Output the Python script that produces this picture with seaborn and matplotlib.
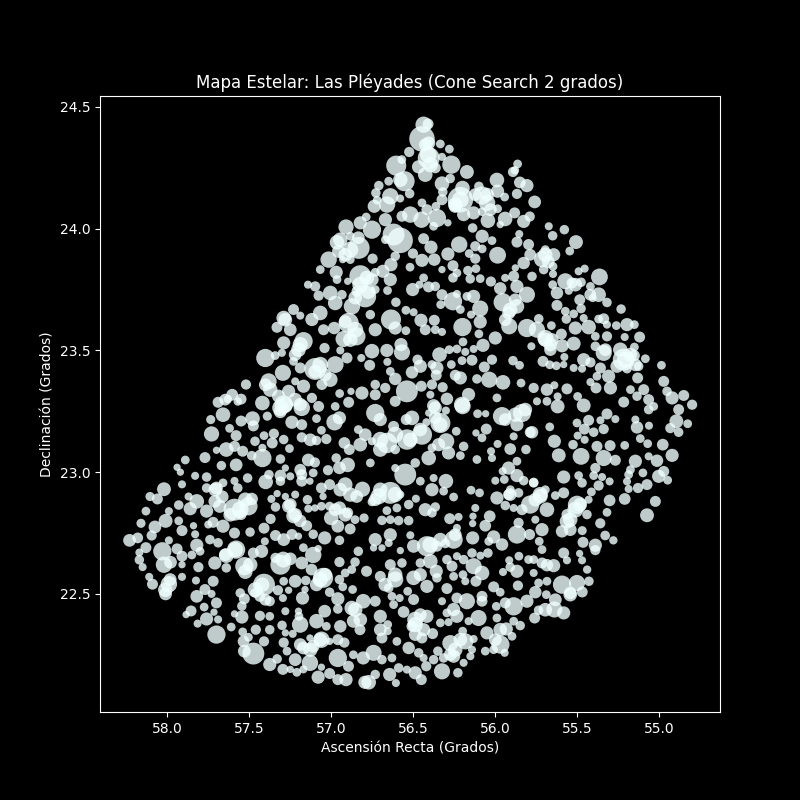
import pandas as pd
import matplotlib.pyplot as plt
import seaborn as sns

# (ra, dec, size), one list per part of the field
stars_west = [
(58.23,22.72,70),(58.18,22.73,50),(58.16,22.79,36),(58.13,22.84,33),(58.105,22.90,36),(58.06,22.89,52),(58.02,22.93,83),(57.99,22.84,28),
(58.01,22.80,83),(58.075,22.775,70),(58.095,22.74,45),(58.13,22.69,52),(58.17,22.67,28),(58.17,22.64,39),(58.15,22.61,28),(58.11,22.57,28),
(58.09,22.54,52),(57.99,22.54,116),(58.01,22.50,70),(58.03,22.675,144),(58.02,22.62,116),(57.98,22.63,70),(57.94,22.685,52),(57.91,22.655,52),
(57.91,22.62,23),(57.91,22.57,28),(57.99,22.72,28),(57.91,22.76,52),(57.93,22.80,33),(57.84,22.78,23),(57.83,22.745,28),(57.82,22.70,75),
(57.85,22.66,33),(57.80,22.675,33),(57.81,22.61,45),(57.825,22.555,28),(57.93,22.865,39),(57.87,22.90,28),(57.86,22.85,75),(57.82,22.88,92),
(57.76,22.84,75),(57.76,22.935,39),(57.91,22.95,28),(57.83,22.985,28),(57.76,22.98,39),(57.94,23.02,23),(57.92,23.0,23),(57.89,23.05,33),
(57.77,23.06,52),(57.73,23.157,100),(57.62,23.18,33),(57.58,23.15,52),(57.735,23.216,36),(57.66,23.236,92),(57.69,23.287,52),(57.55,23.21,52),
(57.48,23.22,92),(57.475,23.19,52),(57.42,23.284,92),(57.39,23.23,36),(57.31,23.264,116),(57.24,23.205,75),(57.18,23.195,52),(57.18,23.264,116),
(57.09,23.22,33),(57.64,23.093,92),(57.70,23.09,23),(57.67,23.027,39),(57.59,23.106,52),(57.54,23.086,52),(57.42,23.058,144),(57.58,23.03,70),
(57.51,22.976,39),(57.40,22.96,92),(57.38,22.99,39),(57.31,23.054,39),(57.36,23.12,52),(57.41,23.15,33),(57.35,23.158,45),(57.29,23.134,39),
(57.255,23.097,33),(57.465,23.127,39),(57.42,23.10,28),(57.485,23.068,39),(57.18,23.143,45),(57.09,23.13,39),(57.03,23.136,45),(57.14,23.05,70),
(57.10,23.04,45),(57.31,22.986,59),(57.31,22.963,39),(57.25,22.983,28),(57.28,23.017,23),(57.18,22.99,52),(57.18,22.963,52),(57.13,22.963,23),
(57.11,22.997,33),(57.02,23.008,45),(56.95,23.018,70),(56.90,23.03,92),(56.97,23.058,39),(56.835,23.175,33),(56.92,23.12,59),(56.89,23.093,52),
(56.98,23.205,116),(56.95,23.223,75),(57.06,23.172,33),(57.70,22.935,70),(57.66,22.956,33),(57.59,22.964,28),(57.57,22.935,39),(57.71,22.88,70),
(57.68,22.86,75),(57.59,22.846,207),(57.505,22.86,144),(57.485,22.89,67),(57.55,22.826,52),(57.72,22.794,52),(57.66,22.778,75),(57.59,22.75,52),
(57.495,22.754,39),(57.75,22.785,28),(57.74,22.723,39),(57.69,22.71,39),(57.58,22.682,144),(57.64,22.657,92),(57.71,22.627,75),(57.64,22.607,39),
(57.53,22.614,144),(57.475,22.668,52),(57.425,22.675,75),(57.405,22.716,28),(57.41,22.77,52),(57.37,22.808,45),(57.34,22.857,39),(57.365,22.89,28),
(57.28,22.90,23),(57.33,22.912,23),(57.26,22.86,75),(57.23,22.82,92),(57.19,22.80,70),(57.15,22.78,52),(57.145,22.887,39),(57.14,22.85,28),
(57.22,22.908,28),(57.34,22.74,52),(57.29,22.723,70),(57.24,22.744,52),(57.20,22.737,23),(57.11,22.745,39),(57.04,22.73,75),(56.95,22.72,39),
(57.0,22.812,92),(56.96,22.778,70),(56.885,22.767,52),(56.80,22.812,36),(56.95,22.853,75),(57.01,22.86,36),(57.06,22.86,33),(57.10,22.853,23),
(57.06,22.935,52),(57.01,22.949,52),(56.915,22.949,92),(56.845,22.90,70),(56.81,22.93,100),(57.05,22.90,23),(56.90,22.833,52),(56.855,22.805,33),
(57.31,22.62,174),(57.34,22.648,45),(57.25,22.644,70),(57.18,22.627,70),(57.12,22.60,59),(57.11,22.66,116),(57.17,22.69,33),(57.08,22.686,23),
(56.95,22.631,45),(56.835,22.675,39),(56.855,22.631,39),(56.875,22.60,33),(56.785,22.593,52),(56.915,22.586,33),(56.95,22.559,39),(57.05,22.566,174),
(57.09,22.538,75),(57.01,22.507,39),(56.96,22.48,75),(56.93,22.529,33),(56.87,22.518,33),(57.22,22.552,70),(57.29,22.552,33),(57.155,22.555,39),
(57.26,22.515,23),(57.325,22.515,45),(57.41,22.538,207),(57.435,22.49,52),(57.465,22.504,39),(57.375,22.47,45),(57.295,22.483,28),(57.175,22.483,75),
(57.16,22.518,23),(57.555,22.504,39),(57.53,22.48,52),(57.545,22.45,39),(57.545,22.405,75),(57.59,22.418,23),(57.435,22.41,45),(57.375,22.408,33),
(57.28,22.429,28),(57.20,22.429,23),(57.19,22.374,116),(57.197,22.408,33),(57.09,22.388,92),(57.04,22.429,70),(57.03,22.367,33),(56.945,22.367,67),
(56.875,22.442,92),(56.805,22.47,92),(56.865,22.388,75),(56.825,22.353,52),(56.96,22.438,39),(57.70,22.463,52),(57.82,22.49,70),(57.77,22.518,52),
(57.73,22.50,28),(57.72,22.552,52),(57.775,22.446,33),(57.715,22.425,23),(57.69,22.395,28),(57.76,22.397,75),(57.815,22.378,28),(57.855,22.43,52),
(57.885,22.415,23),(57.70,22.333,144),(57.61,22.364,33),(57.54,22.344,33),(57.46,22.353,45),(57.375,22.353,39),(57.505,22.322,33),(57.535,22.305,59),
(57.475,22.255,207),(57.53,22.265,70),(57.41,22.305,45),(57.29,22.30,45),(57.30,22.371,39),(57.28,22.34,23),(57.235,22.336,28),(57.27,22.265,33),
(57.22,22.23,70),(57.13,22.217,116),(57.17,22.278,70),(57.13,22.319,23),(57.06,22.312,116),(57.11,22.285,70),(57.01,22.305,23),(56.96,22.312,52),
(56.92,22.30,45),(56.96,22.237,144),(56.895,22.203,52),(56.865,22.25,33),(56.805,22.237,75),(57.375,22.21,75),(57.33,22.233,39),(57.295,22.19,52),
(57.25,22.19,23),(57.21,22.178,33),(57.17,22.19,28),(57.08,22.158,75),(57.06,22.199,23),(57.01,22.173,52),(56.96,22.148,52),(56.91,22.148,75),
(56.795,22.137,75),
# upper left edge
(57.52,23.36,45),(57.55,23.30,52),(57.63,23.30,30),(57.57,23.29,30),
]

stars_north = [
(56.437,24.427,116),(56.41,24.43,52),(56.447,24.369,280),(56.406,24.352,75),(56.335,24.348,33),(56.28,24.327,33),(56.525,24.315,45),(56.406,24.29,207),
(56.325,24.295,28),(56.268,24.263,144),(56.604,24.259,174),(56.57,24.284,33),(56.468,24.254,75),(56.427,24.222,92),(56.366,24.25,52),(56.173,24.233,83),
(55.864,24.266,33),(55.892,24.233,45),(56.553,24.195,174),(56.522,24.144,39),(56.65,24.195,33),(56.71,24.177,39),(56.728,24.147,39),(56.64,24.133,116),
(56.58,24.124,28),(56.66,24.099,116),(56.738,24.092,75),(56.72,24.117,33),(56.275,24.206,39),(56.325,24.185,92),(56.32,24.151,39),(56.2,24.167,92),
(56.213,24.119,280),(56.1,24.174,39),(55.99,24.2,92),(56.08,24.136,144),(56.05,24.106,116),(55.986,24.154,75),(55.943,24.13,33),(55.868,24.143,45),
(55.807,24.177,75),(56.447,24.106,33),(56.417,24.078,52),(56.325,24.119,52),(56.362,24.092,33),(56.244,24.092,75),(56.193,24.058,75),(56.132,24.065,75),
(56.08,24.07,33),(55.986,24.082,33),(56.045,24.033,92),(55.94,24.04,92),(55.882,24.065,52),(55.827,24.03,75),(55.97,24.017,23),(56.518,24.058,116),
(56.569,24.051,52),(56.45,24.037,116),(56.356,24.044,144),(56.376,24.01,33),(56.289,24.024,23),(56.67,24.037,75),(56.62,23.976,207),(56.58,23.952,280),
(56.67,23.955,33),(56.787,24.048,33),(56.823,24.024,75),(56.752,23.996,144),(56.91,24.007,100),(56.965,23.944,92),(56.884,23.969,33),(56.833,23.921,207),
(56.955,23.907,75),(57.016,23.873,116),(56.93,23.873,23),(56.884,23.873,33),(56.748,23.877,45),(56.437,23.959,52),(56.392,23.924,75),(56.502,23.898,45),
(56.447,23.87,75),(56.372,23.873,67),(56.289,23.896,75),(56.22,23.935,116),(56.138,24.003,39),(56.08,23.969,75),(56.02,23.951,33),(56.122,23.928,45),
(56.08,23.917,33),(56.159,23.898,33),(56.122,23.877,45),(55.986,23.891,122),(55.868,23.945,52),(55.854,23.978,28),(55.797,23.935,52),(56.61,23.887,39),
(56.636,23.852,75),(56.685,23.825,75),(56.52,23.842,33),(56.64,23.791,75),(56.732,23.821,33),(57.067,23.832,33),(56.97,23.821,75),(56.965,23.791,33),
(56.823,23.805,207),(56.783,23.798,92),(56.9,23.784,23),(57.142,23.77,28),(57.098,23.763,45),(57.077,23.725,45),(57.006,23.736,92),(56.935,23.729,39),
(56.976,23.695,92),(56.793,23.722,207),(56.843,23.743,52),(56.732,23.75,33),(56.657,23.746,33),(56.874,23.681,116),(56.606,23.698,39),(56.437,23.798,33),
(56.462,23.77,28),(56.504,23.75,75),(56.407,23.761,52),(56.366,23.763,39),(56.325,23.729,52),(56.333,23.688,33),(56.234,23.732,28),(56.258,23.702,144),
(56.325,23.832,23),(56.258,23.848,52),(56.234,23.818,33),(56.258,23.798,39),(56.167,23.828,39),(56.118,23.836,33),(56.153,23.794,39),(56.092,23.795,33),
(56.027,23.783,45),(55.97,23.755,67),(55.94,23.798,28),(55.868,23.763,75),(55.888,23.805,52),(55.827,23.859,67),(55.878,23.839,23),(55.807,23.729,112),
(56.132,23.722,75),(56.173,23.722,33),(56.092,23.672,112),(56.213,23.668,33),(56.148,23.647,28),(55.955,23.698,144),(55.868,23.681,92),(55.918,23.654,75),
(56.545,23.665,33),(56.498,23.657,28),(56.636,23.627,174),(56.453,23.624,75),(56.427,23.585,52),(56.372,23.624,52),(56.366,23.585,33),(56.325,23.576,28),
(56.762,23.647,39),(56.732,23.585,75),(56.61,23.592,75),(56.545,23.581,33),(56.2,23.596,144),(56.092,23.617,75),(56.1,23.568,33),(55.915,23.599,112),
(56.0,23.551,75),(55.807,23.592,144),(56.894,23.613,174),(56.847,23.558,144),(56.925,23.547,112),(56.982,23.592,67),(57.23,23.668,52),(57.29,23.633,92),
(57.331,23.595,52),(57.067,23.654,92),(57.118,23.627,75),(57.047,23.585,52),(57.189,23.643,28),(57.169,23.538,144),(57.2,23.503,92),(57.29,23.531,75),
(57.301,23.49,28),(57.041,23.51,45),(56.945,23.5,28),(57.402,23.469,144),(57.342,23.479,33),(57.295,23.408,112),(57.23,23.455,33),(57.189,23.428,52),
(57.098,23.424,207),(56.976,23.442,122),(57.006,23.38,92),(56.904,23.469,52),(56.817,23.469,28),(56.752,23.497,92),(56.766,23.439,52),(56.661,23.5,75),
(56.569,23.492,112),(56.658,23.453,28),(56.64,23.414,33),(56.61,23.383,67),(56.575,23.524,75),(56.474,23.462,45),(56.457,23.435,75),(56.508,23.41,67),
(56.34,23.483,92),(56.281,23.503,33),(56.234,23.506,33),(56.197,23.535,33),(56.183,23.494,28),(56.132,23.506,28),(56.075,23.521,75),(56.203,23.458,33),
(56.142,23.46,52),(56.067,23.432,52),(56.02,23.462,45),(55.892,23.458,39),(55.852,23.439,33),(56.386,23.442,33),(56.356,23.428,75),(56.36,23.398,52),
(56.268,23.442,33),(56.244,23.398,52),(56.213,23.387,75),(56.112,23.383,39),(56.037,23.38,112),(55.953,23.369,92),(55.843,23.366,33),(56.386,23.36,45),
(56.321,23.349,45),(56.451,23.353,52),(56.539,23.332,207),(56.671,23.346,45),(56.732,23.36,39),(56.813,23.325,75),(56.949,23.323,33),(56.88,23.332,23),
(56.732,23.318,52),(56.894,23.287,52),(56.295,23.301,67),(56.163,23.319,75),(56.203,23.277,112),(55.99,23.305,33),(56.396,23.318,28),(56.61,23.291,52),
(56.376,23.273,75),(57.057,23.36,52),(57.169,23.353,75),(57.26,23.332,75),(57.22,23.373,28),(57.321,23.312,75),(57.382,23.373,112),(57.118,23.305,45),
(57.29,23.278,144),(57.189,23.278,75),(57.077,23.27,52),(56.976,23.27,33),
# top right edge
(55.76,24.11,70),(55.85,24.19,60),(55.79,24.05,45),(55.88,24.24,30),
]

stars_east = [
(55.674,24.01,28),(55.65,23.971,39),(55.579,23.996,39),(55.508,23.945,83),(55.546,23.908,33),(55.715,23.875,112),(55.644,23.893,75),(55.695,23.914,33),
(55.705,23.832,39),(55.648,23.845,33),(55.648,23.814,28),(55.776,23.804,39),(55.573,23.784,112),(55.532,23.777,52),(55.65,23.77,33),(55.624,23.736,67),
(55.552,23.745,28),(55.477,23.78,39),(55.492,23.825,28),(55.455,23.836,28),(55.365,23.802,122),(55.42,23.763,33),(55.37,23.729,92),(55.406,23.715,28),
(55.319,23.697,39),(55.485,23.708,52),(55.477,23.672,39),(55.624,23.685,52),(55.573,23.661,33),(55.522,23.65,33),(55.567,23.629,39),(55.461,23.633,28),
(55.233,23.67,39),(55.37,23.629,33),(55.339,23.63,52),(55.319,23.606,28),(55.262,23.602,33),(55.197,23.606,75),(55.152,23.606,33),(55.512,23.592,75),
(55.431,23.596,92),(55.658,23.602,33),(55.735,23.63,39),(55.746,23.585,112),(55.39,23.558,33),(55.319,23.558,45),(55.211,23.555,28),(55.12,23.555,52),
(55.152,23.514,33),(55.597,23.567,52),(55.695,23.551,112),(55.654,23.544,75),(55.593,23.519,75),(55.522,23.528,83),(55.664,23.503,67),(55.78,23.517,28),
(55.39,23.517,39),(55.339,23.49,112),(55.217,23.462,207),(55.152,23.479,52),(55.258,23.435,75),(55.126,23.435,39),(55.132,23.387,52),(55.085,23.466,33),
(55.197,23.425,39),(55.579,23.473,28),(55.709,23.455,52),(55.668,23.441,33),(55.628,23.437,33),(55.583,23.442,23),(55.522,23.428,28),(55.461,23.462,75),
(55.42,23.451,45),(55.471,23.425,28),(55.359,23.428,52),(55.38,23.394,33),(55.309,23.394,75),(55.42,23.37,28),(55.386,23.346,52),(55.298,23.346,75),
(54.987,23.439,33),(54.973,23.373,52),(54.953,23.332,39),(54.851,23.315,52),(54.922,23.305,75),(54.8,23.277,45),(54.882,23.257,52),(54.896,23.209,83),
(54.933,23.181,45),(54.827,23.199,33),(54.882,23.164,39),(55.563,23.342,52),(55.498,23.311,33),(55.64,23.357,28),(55.685,23.339,67),(55.62,23.311,28),
(55.62,23.27,83),(55.461,23.274,83),(55.685,23.291,33),(55.746,23.291,28),(55.766,23.346,45),(55.217,23.288,52),(55.176,23.339,33),(55.136,23.312,39),
(55.095,23.339,52),(55.065,23.298,52),(55.034,23.27,33),(55.065,23.257,39),(55.319,23.239,52),(55.268,23.218,28),(55.359,23.213,28),(55.431,23.213,52),
(55.502,23.202,33),(55.457,23.177,52),(55.4,23.164,39),(55.339,23.177,45),(55.146,23.216,28),(55.136,23.184,67),(55.063,23.191,28),(55.668,23.186,33),
(55.776,23.164,67),(55.498,23.15,28),(55.455,23.133,28),(55.64,23.127,75),(55.526,23.113,39),(55.116,23.138,33),(55.071,23.117,33),(54.979,23.113,59),
(55.211,23.11,33),(55.3,23.109,52),(55.38,23.106,52),(55.477,23.065,122),(55.613,23.069,83),(55.339,23.058,112),(55.268,23.049,52),(55.39,23.017,45),
(55.4,22.986,33),(55.146,23.045,75),(55.065,23.065,28),(55.014,23.047,67),(54.922,23.069,75),(55.176,23.01,33),(55.1,22.997,33),(54.973,23.003,52),
(55.004,22.983,75),(54.949,22.967,33),(55.187,22.99,33),(55.583,22.98,75),(55.492,22.986,33),(55.349,22.98,28),(55.303,22.962,28),(55.471,22.956,39),
(55.37,22.945,45),(55.197,22.962,28),(55.187,22.931,28),(55.13,22.935,45),(55.075,22.949,52),(55.211,22.89,59),(55.502,22.866,144),(55.414,22.919,33),
(55.431,22.887,28),(55.303,22.884,59),(55.024,22.88,52),(55.319,22.835,33),(55.075,22.823,83),(55.441,22.826,39),(55.563,22.826,52),(55.583,22.915,52),
(55.634,22.904,33),(55.695,22.928,33),(55.725,22.901,92),(55.685,22.846,92),(55.766,22.956,39),
# below the crop, right of x 600 px
(55.36,22.79,45),(55.39,22.68,45),(55.33,22.74,40),(55.28,22.72,30),(55.44,22.60,30),(55.47,22.76,35),
]

stars_south = [
(56.732,23.243,144),(56.701,23.216,75),(56.62,23.188,52),(56.543,23.216,52),(56.508,23.223,92),(56.366,23.264,75),(56.335,23.202,174),(56.406,23.243,23),
(56.42,23.205,28),(56.301,23.253,28),(56.238,23.168,33),(56.193,23.106,39),(56.213,23.068,33),(56.199,23.271,112),(56.108,23.24,33),(56.059,23.24,23),
(55.959,23.23,144),(55.868,23.195,75),(55.787,23.164,52),(55.837,23.243,144),(56.055,23.177,52),(56.118,23.161,23),(56.081,23.141,33),(55.888,23.147,28),
(55.986,23.116,28),(55.909,23.095,59),(56.026,23.086,28),(56.112,23.052,33),(56.02,23.058,28),(55.813,23.093,39),(55.868,23.045,33),(55.919,23.017,75),
(55.955,23.004,28),(56.0,22.965,28),(55.945,22.97,33),(55.868,22.986,75),(55.827,22.965,39),(55.766,22.958,39),(55.908,22.928,33),(56.148,22.926,33),
(56.096,22.915,33),(55.99,22.894,75),(55.919,22.908,52),(55.858,22.915,39),(55.787,22.867,144),(55.888,22.853,28),(55.939,22.863,39),(55.837,22.846,52),
(55.756,22.805,28),(56.122,22.853,28),(56.034,22.819,59),(56.061,22.78,59),(56.136,22.819,23),(56.138,22.789,23),(56.224,22.816,28),(56.278,22.809,52),
(56.234,22.771,28),(56.254,22.723,144),(56.305,22.707,39),(56.138,22.73,75),(56.01,22.734,75),(56.04,22.716,33),(55.959,22.703,67),(55.868,22.744,144),
(55.858,22.792,45),(55.791,22.744,52),(55.715,22.764,75),(55.732,22.716,33),(55.715,22.682,33),(55.593,22.757,67),(55.563,22.798,92),(55.583,22.668,52),
(55.563,22.638,28),(55.486,22.666,23),(55.471,22.638,28),(55.465,22.712,52),(55.39,22.7,75),(55.593,22.538,144),(55.502,22.545,112),(55.543,22.504,67),
(55.47,22.508,52),(55.429,22.552,39),(55.64,22.436,112),(55.583,22.422,75),(55.685,22.618,67),(55.644,22.616,75),(55.766,22.641,33),(55.797,22.641,33),
(55.856,22.655,33),(55.715,22.627,52),(55.915,22.638,28),(55.953,22.59,28),(55.909,22.61,39),(55.868,22.593,75),(55.766,22.586,28),(55.736,22.545,33),
(55.685,22.552,33),(55.862,22.534,45),(56.01,22.529,52),(55.97,22.507,33),(55.689,22.497,33),(55.756,22.507,67),(55.807,22.47,75),(55.888,22.449,144),
(55.939,22.463,52),(55.994,22.449,33),(55.736,22.433,39),(55.76,22.401,52),(55.888,22.388,33),(55.848,22.37,39),(55.933,22.356,75),(55.898,22.326,33),
(55.969,22.292,144),(56.051,22.34,75),(55.99,22.401,33),(56.102,22.401,112),(56.163,22.388,28),(56.199,22.347,33),(56.132,22.315,28),(56.142,22.271,28),
(56.152,22.244,28),(56.061,22.265,33),(56.01,22.271,33),(55.943,22.258,28),(56.183,22.305,112),(56.274,22.298,112),(56.254,22.244,75),(56.315,22.237,39),
(56.193,22.217,28),(56.228,22.176,39),(56.325,22.182,112),(56.376,22.23,39),(56.35,22.265,39),(56.421,22.203,45),(56.254,22.436,75),(56.295,22.422,33),
(56.234,22.408,75),(56.173,22.47,112),(56.234,22.483,52),(56.081,22.49,52),(56.081,22.47,52),(56.325,22.47,28),(56.295,22.522,52),(56.417,22.531,75),
(56.498,22.477,52),(56.559,22.426,59),(56.417,22.408,75),(56.488,22.394,112),(56.508,22.367,52),(56.437,22.353,75),(56.382,22.337,52),(56.335,22.381,33),
(56.285,22.384,28),(56.447,22.319,52),(56.6,22.305,33),(56.528,22.278,67),(56.467,22.258,39),(56.437,22.237,28),(56.539,22.189,28),(56.488,22.176,75),
(56.451,22.148,52),(56.606,22.134,28),(56.644,22.169,75),(56.589,22.196,39),(56.63,22.237,33),(56.691,22.23,39),(56.742,22.258,112),(56.732,22.169,39),
(56.772,22.137,92),(56.691,22.319,52),(56.656,22.347,28),(56.701,22.408,75),(56.656,22.374,33),(56.732,22.47,52),(56.62,22.456,33),(56.583,22.483,28),
(56.63,22.49,33),(56.534,22.511,33),(56.498,22.566,92),(56.457,22.579,75),(56.61,22.559,112),(56.64,22.62,52),(56.701,22.572,52),(56.569,22.627,39),
(56.65,22.524,39),(56.457,22.627,39),(56.396,22.634,92),(56.36,22.593,75),(56.356,22.566,39),(56.295,22.641,39),(56.264,22.614,52),(56.254,22.572,33),
(56.183,22.552,28),(56.197,22.579,33),(56.132,22.614,112),(56.081,22.586,92),(56.118,22.552,52),(56.193,22.641,39),(56.142,22.668,39),(56.091,22.657,28),
(56.045,22.668,39),(56.417,22.696,174),(56.498,22.696,75),(56.579,22.678,23),(56.356,22.696,52),(56.234,22.655,28),(56.732,22.723,75),(56.64,22.743,75),
(56.742,22.689,23),(56.691,22.689,23),(56.65,22.709,28),(56.518,22.741,28),(56.691,22.802,39),(56.64,22.805,33),(56.589,22.801,39),(56.528,22.801,39),
(56.661,22.842,33),(56.6,22.853,33),(56.528,22.867,39),(56.484,22.891,28),(56.427,22.846,75),(56.366,22.857,39),(56.386,22.833,39),(56.711,22.901,112),
(56.64,22.915,207),(56.579,22.908,28),(56.752,22.878,33),(56.386,22.928,75),(56.301,22.963,92),(56.315,22.922,33),(56.254,22.898,33),(56.376,22.976,28),
(56.457,22.963,33),(56.549,22.99,207),(56.61,23.017,28),(56.488,23.038,39),(56.406,23.058,92),(56.345,23.113,75),(56.285,23.079,75),(56.299,23.127,112),
(56.447,23.154,174),(56.539,23.134,180),(56.661,23.12,180),(56.701,23.093,92),(56.61,23.093,39),(56.752,23.127,28),(56.386,23.1,33),(56.762,23.038,33),
]

# stars hidden inside the bright clumps
stars_clumps = [
(56.945,23.955,90),(56.884,23.914,110),(56.835,23.963,70),(56.915,23.893,80),(56.823,23.77,110),(56.774,23.741,90),(56.75,23.791,70),(56.854,23.717,80),
(56.579,24.201,90),(56.409,24.304,120),(56.396,24.263,100),(56.427,24.345,70),(56.213,24.119,120),(56.244,24.099,90),(56.03,24.078,70),(56.049,24.14,80),
(56.854,23.585,110),(56.884,23.544,90),(56.915,23.618,70),(57.189,23.524,100),(57.22,23.483,70),(57.28,23.626,80),(57.25,23.585,70),(57.067,23.441,110),
(57.037,23.4,70),(57.098,23.413,80),(57.372,23.339,90),(57.402,23.359,70),(57.28,23.277,100),(57.311,23.248,70),(57.22,23.298,80),(57.646,23.298,60),
(57.604,23.318,60),(56.701,23.133,110),(56.61,23.154,110),(56.518,23.133,90),(56.457,23.175,80),(56.335,23.195,90),(56.366,23.224,70),(56.701,22.928,90),
(56.61,22.908,100),(56.732,22.887,70),(56.945,22.928,80),(56.884,22.908,90),(56.976,22.846,70),(56.915,22.825,80),(57.555,22.846,120),(57.616,22.825,80),
(57.524,22.887,90),(57.707,22.928,80),(57.665,22.899,70),(57.585,22.682,100),(57.646,22.661,70),(57.524,22.591,90),(57.494,22.62,90),(57.463,22.517,100),
(57.421,22.538,90),(57.402,22.476,60),(57.067,22.559,100),(57.037,22.579,80),(57.293,22.641,110),(57.22,22.825,80),(57.25,22.867,70),(56.61,22.579,90),
(56.671,22.538,80),(56.488,22.374,100),(56.457,22.415,70),(56.488,22.333,70),(56.854,22.435,90),(56.823,22.394,80),(56.701,22.353,70),(57.128,22.271,90),
(57.067,22.312,80),(57.189,22.292,70),(56.244,22.271,90),(56.213,22.312,80),(56.274,22.251,70),(55.97,22.353,80),(56.0,22.312,70),(55.695,22.435,80),
(55.634,22.476,70),(55.543,22.497,80),(55.512,22.846,110),(55.543,22.805,90),(55.482,22.867,80),(55.543,22.764,70),(55.726,22.908,100),(55.756,22.887,80),
(55.909,22.908,70),(55.878,23.236,90),(55.817,23.257,80),(55.939,23.216,70),(55.207,23.462,120),(55.238,23.503,90),(55.146,23.441,70),(55.177,23.483,80),
(55.329,23.503,70),(55.695,23.544,90),(55.665,23.524,80),(55.909,23.667,90),(55.878,23.708,70),(55.939,23.626,70),(55.695,23.893,90),(55.677,23.864,70),
(55.787,23.893,60),(55.512,23.77,80),(55.421,23.729,60),(56.396,22.702,110),(56.335,22.723,80),(56.244,22.743,70),(56.823,23.113,80),(56.793,23.154,70),
(58.012,22.517,90),(57.982,22.559,70),(57.189,23.01,60),(57.128,23.133,70),(56.122,24.14,70),
]

titulo = "Mapa Estelar: Las Pléyades (Cone Search 2 grados)"
xlabel = "Ascensión Recta (Grados)"
ylabel = "Declinación (Grados)"

df = pd.DataFrame(stars_west + stars_north + stars_east + stars_south + stars_clumps, columns=["ra", "dec", "size"])

plt.style.use("dark_background")
fig, ax = plt.subplots(figsize=(8, 8), dpi=100)

sns.scatterplot(data=df, x="ra", y="dec", s=df["size"].to_numpy() * 1.2, color="azure", alpha=0.8, linewidth=0, legend=False, ax=ax)

ax.set_xlim(58.41, 54.63)
ax.set_ylim(22.015, 24.545)
ax.set_title(titulo)
ax.set_xlabel(xlabel)
ax.set_ylabel(ylabel)

plt.savefig("out.png")
